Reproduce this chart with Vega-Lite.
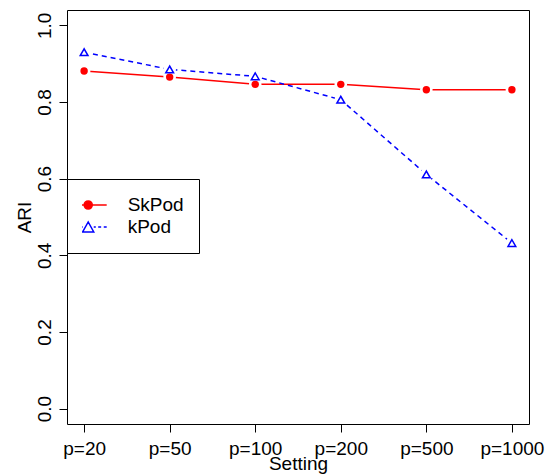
{
  "$schema": "https://vega.github.io/schema/vega-lite/v6.json",
  "width": 462,
  "height": 414,
  "autosize": {"type": "none"},
  "padding": {"left": 67, "top": 10, "right": 20, "bottom": 51},
  "background": "white",
  "config": {
    "view": {"stroke": "black", "strokeWidth": 1},
    "font": "Liberation Sans",
    "axis": {"grid": false, "domain": false, "tickColor": "black", "tickWidth": 1, "tickSize": 8,
             "labelFont": "Liberation Sans", "labelFontSize": 19, "labelColor": "black",
             "titleFont": "Liberation Sans", "titleFontSize": 19, "titleFontWeight": "normal", "titleColor": "black"},
    "legend": {
      "title": null, "orient": "none", "legendX": 0, "legendY": 169,
      "padding": 15, "clipHeight": 22, "rowPadding": 0,
      "symbolSize": 1369, "symbolStrokeWidth": 1.5, "symbolOffset": -13.3, "symbolOpacity": 1,
      "labelOffset": 20, "labelFontSize": 19, "labelFont": "Liberation Sans", "labelColor": "black",
      "strokeColor": "black", "fillColor": "white"
    }
  },
  "data": {"values": [
    {"Setting": "p=20", "method": "SkPod", "ARI": 0.881},
    {"Setting": "p=50", "method": "SkPod", "ARI": 0.865},
    {"Setting": "p=100", "method": "SkPod", "ARI": 0.846},
    {"Setting": "p=200", "method": "SkPod", "ARI": 0.846},
    {"Setting": "p=500", "method": "SkPod", "ARI": 0.832},
    {"Setting": "p=1000", "method": "SkPod", "ARI": 0.832},
    {"Setting": "p=20", "method": "kPod", "ARI": 0.930},
    {"Setting": "p=50", "method": "kPod", "ARI": 0.885},
    {"Setting": "p=100", "method": "kPod", "ARI": 0.867},
    {"Setting": "p=200", "method": "kPod", "ARI": 0.806},
    {"Setting": "p=500", "method": "kPod", "ARI": 0.611},
    {"Setting": "p=1000", "method": "kPod", "ARI": 0.432}
  ]},
  "encoding": {
    "x": {"field": "Setting", "type": "ordinal", "sort": ["p=20", "p=50", "p=100", "p=200", "p=500", "p=1000"],
          "scale": {"type": "point", "padding": 0.2},
          "axis": {"title": "Setting", "labelAngle": 0, "labelBaseline": "alphabetic", "labelPadding": 22.5,
                   "titleY": 45, "titleBaseline": "alphabetic"}},
    "y": {"field": "ARI", "type": "quantitative",
          "scale": {"domain": [-0.04, 1.04], "nice": false, "zero": false},
          "axis": {"title": "ARI", "values": [0, 0.2, 0.4, 0.6, 0.8, 1.0], "format": ".1f",
                   "labelAngle": 270, "labelAlign": "center", "labelBaseline": "alphabetic", "labelPadding": 9,
                   "titleAngle": 270, "titleX": -37, "titleY": 207, "titleAlign": "center", "titleBaseline": "alphabetic"}}
  },
  "layer": [
    {
      "transform": [{"filter": "datum.method === 'SkPod'"}],
      "mark": {"type": "line", "strokeWidth": 1.5, "stroke": "#FF0000"},
      "encoding": {}
    },
    {
      "transform": [{"filter": "datum.method === 'kPod'"}],
      "mark": {"type": "line", "strokeWidth": 1.5, "stroke": "#0000FF", "strokeDash": [5, 4]},
      "encoding": {}
    },
    {
      "mark": {"type": "point", "shape": "circle", "filled": true, "fill": "white", "size": 160, "opacity": 1, "strokeWidth": 0},
      "encoding": {}
    },
    {
      "transform": [{"filter": "datum.method === 'SkPod'"}],
      "mark": {"type": "point", "shape": "circle", "filled": true, "color": "#FF0000", "size": 55, "opacity": 1},
      "encoding": {}
    },
    {
      "transform": [{"filter": "datum.method === 'kPod'"}],
      "mark": {"type": "point", "shape": "triangle-up", "stroke": "#0000FF", "fill": "white", "strokeWidth": 1.5, "size": 60, "opacity": 1},
      "encoding": {}
    },
    {
      "mark": {"type": "point", "opacity": 0, "strokeWidth": 1.5},
      "encoding": {
        "shape": {"field": "method", "type": "nominal",
                  "scale": {"domain": ["SkPod", "kPod"], "range": [
                    "M-1,0L1,0M0.22,0C0.22,0.1215,0.1215,0.22,0,0.22C-0.1215,0.22,-0.22,0.1215,-0.22,0C-0.22,-0.1215,-0.1215,-0.22,0,-0.22C0.1215,-0.22,0.22,-0.1215,0.22,0Z",
                    "M-1,0L-0.84,0M-0.7,0L-0.54,0M-0.41,0L-0.3,0M0.3,0L0.41,0M0.54,0L0.7,0M0.84,0L1,0M-0.3,0.27L0.3,0.27L0,-0.27Z"]}},
        "fill": {"field": "method", "type": "nominal",
                 "scale": {"domain": ["SkPod", "kPod"], "range": ["#FF0000", "#FFFFFF"]}},
        "stroke": {"field": "method", "type": "nominal",
                   "scale": {"domain": ["SkPod", "kPod"], "range": ["#FF0000", "#0000FF"]}}
      }
    }
  ]
}
